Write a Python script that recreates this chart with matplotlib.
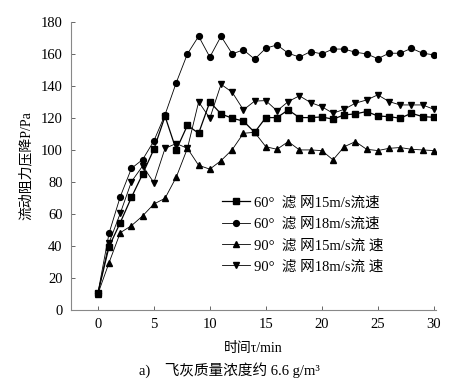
import matplotlib
matplotlib.use("Agg")
import matplotlib.pyplot as plt
import numpy as np

plt.rcParams['font.family'] = ['Liberation Serif', 'Noto Sans CJK SC', 'DejaVu Sans']

# time, min
t = list(range(0, 31))

# 60 deg filter, 15 m/s
p60_15 = [10.5, 39.6, 54.6, 70.4, 85, 100.4, 121, 100, 115.4, 110.4, 130, 122.5,
          119.8, 118, 111, 120.2, 120.2, 125, 120.2, 120.2, 120.6, 119.2, 121.9,
          122.5, 124, 121.2, 120.8, 119.8, 122.9, 120.8, 120.4]
# 60 deg filter, 18 m/s
p60_18 = [10.5, 48, 70.8, 88.5, 94, 105.6, 122, 142, 160, 171, 158, 171,
          160, 162.5, 156.7, 163.5, 165.6, 160.4, 158, 161.4, 160, 163, 163,
          161, 160, 157, 160.4, 160.4, 163.5, 160.4, 159.4]
# 90 deg filter, 15 m/s
p90_15 = [10, 29.6, 48.3, 52.7, 58.8, 66.2, 69.8, 83, 101, 90.4, 88, 93.3,
          100.2, 110.4, 111, 102, 100.4, 105.2, 100, 100, 99.6, 93.8, 102,
          105.2, 100.4, 99.6, 101, 101.5, 100.4, 100, 99.6]
# 90 deg filter, 18 m/s
p90_18 = [10, 42, 60.4, 80.2, 90, 79.6, 101, 104, 101, 130, 119.8, 141,
          136, 125, 130.5, 130.8, 124.4, 130.2, 133.8, 129.6, 127, 122.9, 125.4,
          129.2, 131.2, 134.4, 130.2, 128.1, 128.1, 128.1, 125.4]

labels = ["60°  滤 网15m/s流速", "60°  滤 网18m/s流速",
          "90°  滤 网15m/s流 速", "90°  滤 网18m/s流 速"]

fig = plt.figure(figsize=(4.58, 3.9), dpi=100)
ax = fig.add_axes([0.155, 0.205, 0.797, 0.739])

ax.plot(t, p60_15, color="black", lw=0.9, marker="s", ms=4.6, label=labels[0])
ax.plot(t, p60_18, color="black", lw=0.6, marker="o", ms=4.2, label=labels[1])
ax.plot(t, p90_15, color="black", lw=0.6, marker="^", ms=4.0, label=labels[2])
ax.plot(t, p90_18, color="black", lw=0.6, marker="v", ms=4.0, label=labels[3])

ax.set_xlim(-2.4, 30.2)
ax.set_ylim(0, 180)
ax.set_xticks([0, 5, 10, 15, 20, 25, 30])
ax.set_yticks(np.arange(0, 181, 20))
ax.spines["top"].set_visible(False)
ax.spines["right"].set_visible(False)
for s in ("left", "bottom"):
    ax.spines[s].set_color("#888888")
    ax.spines[s].set_linewidth(0.8)
ax.tick_params(direction="in", length=3, width=0.7, color="#666666",
               labelsize=10.5, pad=6)

ax.set_xlabel("时间τ/min", fontsize=10, labelpad=8)
ax.set_ylabel("流动阻力压降P/Pa", fontsize=10, labelpad=6)

ax.legend(loc="upper left", bbox_to_anchor=(222 / 458, 0.497),
          bbox_transform=fig.transFigure, frameon=False,
          fontsize=10.5, handlelength=1.9, handletextpad=0.3, labelspacing=0.55,
          borderaxespad=0, borderpad=0)

fig.text(0.5, 0.04, "a)    飞灰质量浓度约 6.6 g/m³", ha="center", fontsize=10.5)

fig.savefig("out.png", dpi=100, facecolor="white")
